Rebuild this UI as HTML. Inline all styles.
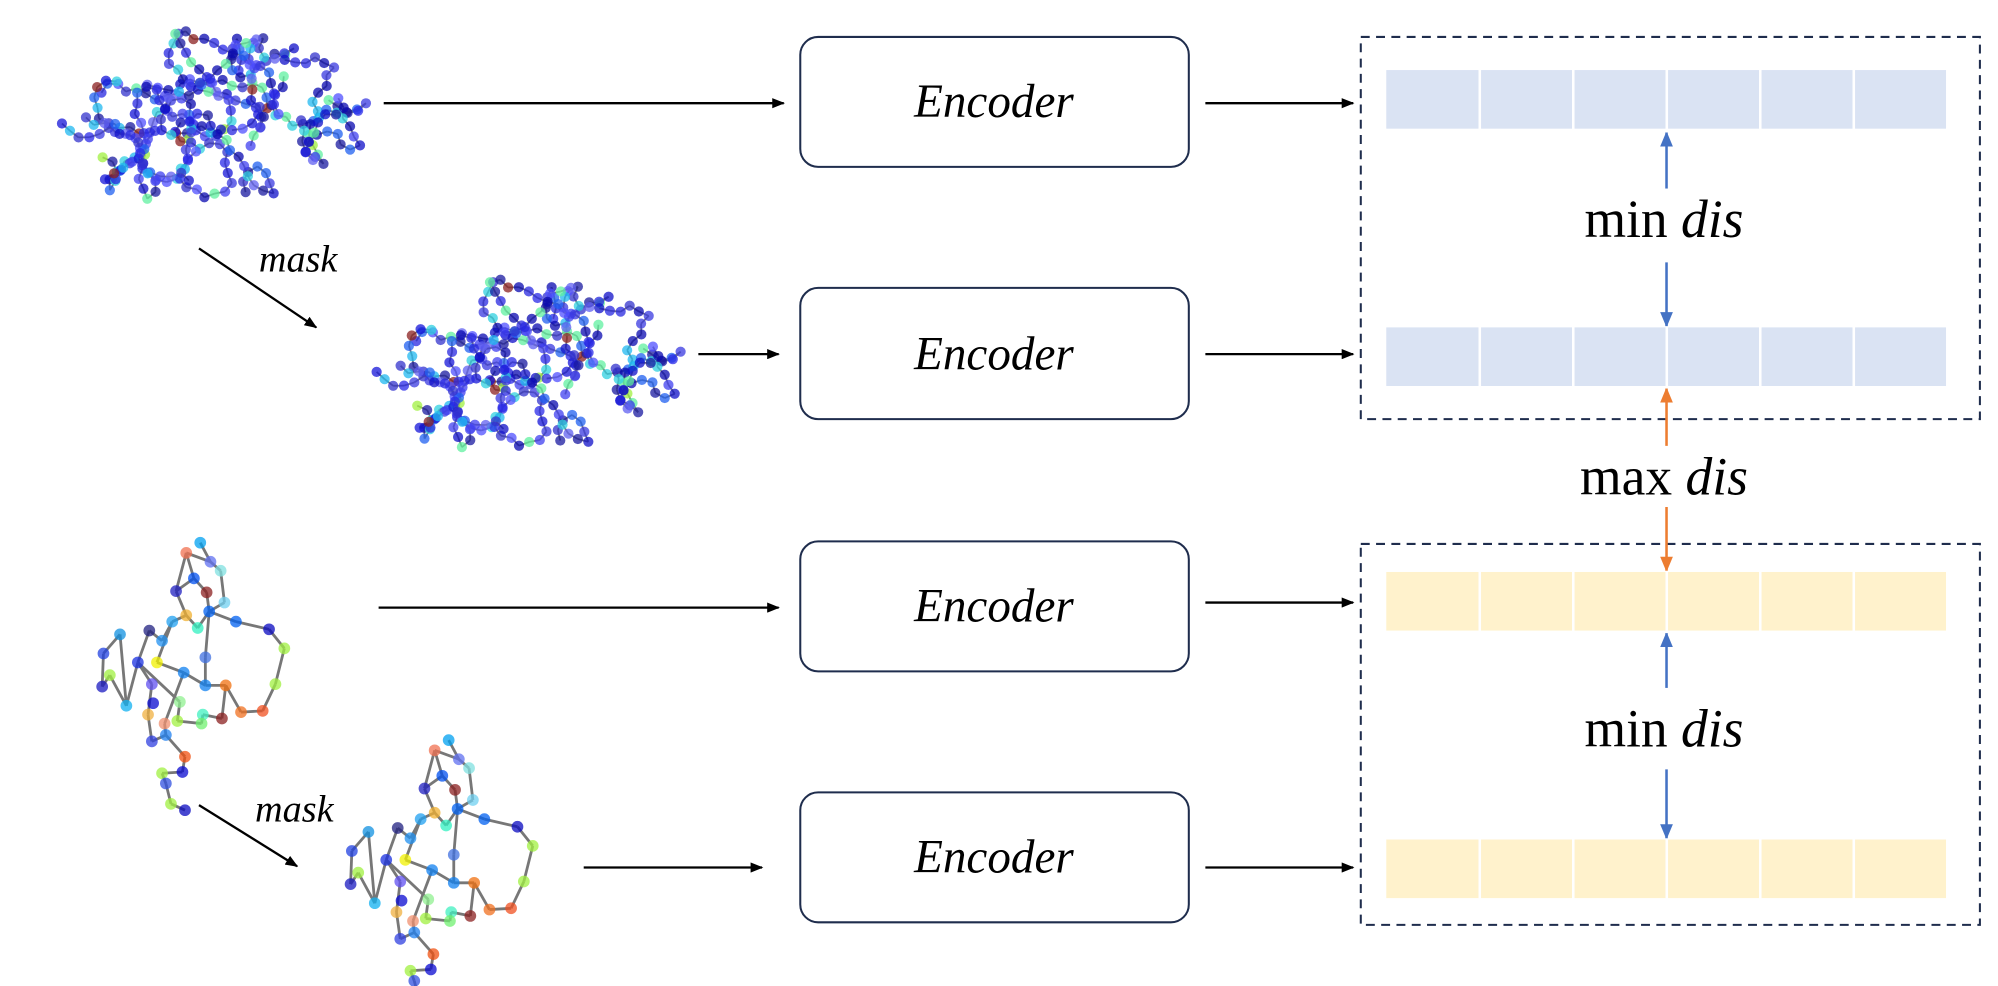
<!DOCTYPE html>
<html><head><meta charset="utf-8"><style>
html,body{margin:0;padding:0;background:#fff;}
svg{display:block;}
text{font-family:"Liberation Serif",serif;}
</style></head><body>
<svg id="s" width="1998" height="986" viewBox="0 0 1568 774" xmlns="http://www.w3.org/2000/svg">
<defs>
<marker id="ak" markerWidth="10" markerHeight="8" refX="9" refY="4" orient="auto" markerUnits="userSpaceOnUse"><path d="M0,0 L10,4 L0,8 z" fill="#000"/></marker>
<marker id="ab" markerWidth="10" markerHeight="12" refX="11" refY="5" orient="auto" markerUnits="userSpaceOnUse"><path d="M0,0 L12,5 L0,10 z" fill="#4472c4"/></marker>
<marker id="ao" markerWidth="10" markerHeight="12" refX="11" refY="5" orient="auto" markerUnits="userSpaceOnUse"><path d="M0,0 L12,5 L0,10 z" fill="#ed7d31"/></marker>
</defs>
<g id="mols"></g>
<g fill="#fff" stroke="#1f2d4d" stroke-width="1.6">
<rect x="628" y="29" width="305" height="102" rx="14"/>
<rect x="628" y="226" width="305" height="103" rx="14"/>
<rect x="628" y="425" width="305" height="102" rx="14"/>
<rect x="628" y="622" width="305" height="102" rx="14"/>
</g>
<g font-size="37" font-style="italic" text-anchor="middle">
<text x="780" y="92">Encoder</text>
<text x="780" y="290">Encoder</text>
<text x="780" y="488">Encoder</text>
<text x="780" y="685">Encoder</text>
</g>
<g stroke="#000" stroke-width="1.8" marker-end="url(#ak)">
<line x1="301" y1="81" x2="615" y2="81"/>
<line x1="946" y1="81" x2="1062" y2="81"/>
<line x1="548" y1="278" x2="611" y2="278"/>
<line x1="946" y1="278" x2="1062" y2="278"/>
<line x1="297" y1="477" x2="611" y2="477"/>
<line x1="946" y1="473" x2="1062" y2="473"/>
<line x1="458" y1="681" x2="598" y2="681"/>
<line x1="946" y1="681" x2="1062" y2="681"/>
<line x1="156" y1="195" x2="248" y2="257"/>
<line x1="156" y1="632" x2="233" y2="680"/>
</g>
<g font-size="30" font-style="italic">
<text x="203" y="213">mask</text>
<text x="200" y="645">mask</text>
</g>
<g fill="none" stroke="#1f2d4d" stroke-width="1.6" stroke-dasharray="7,5">
<rect x="1068" y="29" width="486" height="300"/>
<rect x="1068" y="427" width="486" height="299"/>
</g>
<g id="bars"></g>
<g stroke-width="2">
<line x1="1308" y1="148" x2="1308" y2="104" stroke="#4472c4" marker-end="url(#ab)"/>
<line x1="1308" y1="206" x2="1308" y2="256" stroke="#4472c4" marker-end="url(#ab)"/>
<line x1="1308" y1="350" x2="1308" y2="305" stroke="#ed7d31" marker-end="url(#ao)"/>
<line x1="1308" y1="398" x2="1308" y2="448" stroke="#ed7d31" marker-end="url(#ao)"/>
<line x1="1308" y1="540" x2="1308" y2="497" stroke="#4472c4" marker-end="url(#ab)"/>
<line x1="1308" y1="604" x2="1308" y2="658" stroke="#4472c4" marker-end="url(#ab)"/>
</g>
<g font-size="42" text-anchor="middle">
<text x="1306" y="186">min <tspan font-style="italic">dis</tspan></text>
<text x="1306" y="388">max <tspan font-style="italic">dis</tspan></text>
<text x="1306" y="586">min <tspan font-style="italic">dis</tspan></text>
</g>
</svg>
<script>
var NS="http://www.w3.org/2000/svg";
var bars=document.getElementById("bars");
[[55,"#dae3f3"],[257,"#dae3f3"],[449,"#fff2cc"],[659,"#fff2cc"]].forEach(function(b){
 for(var i=0;i<6;i++){var r=document.createElementNS(NS,"rect");
 r.setAttribute("x",1088+i*73.4+(i?1:0));r.setAttribute("y",b[0]);r.setAttribute("width",73.4-(i?1:0)-1);r.setAttribute("height",46);r.setAttribute("fill",b[1]);bars.appendChild(r);}
});
var mols=document.getElementById("mols");
var seed=11;function rnd(){seed=(seed*16807)%2147483647;return seed/2147483647;}
function draw(pts,edges,cols,dx,dy,rad,sw){
 var g=document.createElementNS(NS,"g");g.setAttribute("transform","translate("+dx+","+dy+")");
 edges.forEach(function(e){var l=document.createElementNS(NS,"line");var a=pts[e[0]],b=pts[e[1]];
 l.setAttribute("x1",a[0]);l.setAttribute("y1",a[1]);l.setAttribute("x2",b[0]);l.setAttribute("y2",b[1]);
 l.setAttribute("stroke","#777");l.setAttribute("stroke-width",sw);g.appendChild(l);});
 pts.forEach(function(p,i){var c=document.createElementNS(NS,"circle");c.setAttribute("cx",p[0]);c.setAttribute("cy",p[1]);c.setAttribute("r",rad);c.setAttribute("fill",cols[i]);c.setAttribute("fill-opacity",0.75);g.appendChild(c);});
 mols.appendChild(g);
}
var pts=[],edges=[],cols=[];
var pal=["#1515d8","#2a2ae8","#4040f0","#3333cc","#1a1aa0","#5050ff","#2060f0","#20b8f0","#30d0e0","#2828e0","#0a0ab0","#3a3ae0","#6060f0","#1010c8"];
function inside(x,y){var a=(x-155)/135,b=(y-92)/68;if(a*a+b*b>1)return false;if(x<70&&(y<75||y>120))return false;if(x>235&&y>130)return false;if(x<100&&y<45)return false;return true;}
var starts=[[40,98],[75,80],[80,115],[110,60],[110,130],[140,35],[150,95],[150,150],[180,60],[190,120],[215,45],[225,95],[250,75],[270,70],[200,155],[125,95]];
starts.forEach(function(s){
 var x=s[0],y=s[1],ang=rnd()*6.28;
 var first=true;
 for(var k=0;k<20;k++){
  ang+=(rnd()-0.5)*2.4;
  var nx=x+Math.cos(ang)*8.5,ny=y+Math.sin(ang)*8.5;
  if(!inside(nx,ny)){var ca=Math.atan2(92-y,155-x);ang=ca+(rnd()-0.5)*1.5;nx=x+Math.cos(ang)*8.5;ny=y+Math.sin(ang)*8.5;}
  if(!first)edges.push([pts.length-1,pts.length]);
  first=false;
  x=nx;y=ny;pts.push([x,y]);
  var r=rnd();cols.push(r<0.015?"#8b2020":r<0.03?"#a0f040":r<0.08?"#60f0a0":pal[Math.floor(rnd()*pal.length)]);
 }
});
draw(pts,edges,cols,0,0,4,1.4);
draw(pts,edges,cols,247,195,4,1.4);
var sp=[[157,426],[146,434],[165,441],[173,448],[152,454],[138,464],[162,465],[176,473],[164,480],[146,483],[155,493],[135,488],[185,488],[211,494],[223,509],[117,495],[127,503],[94,498],[81,513],[108,520],[123,520],[144,528],[161,516],[86,530],[80,539],[119,537],[161,538],[177,538],[216,537],[99,554],[120,552],[116,561],[141,551],[189,559],[206,558],[174,564],[159,561],[139,566],[158,568],[129,568],[130,577],[119,582],[145,594],[143,606],[127,607],[130,615],[134,631],[145,636]];
var sc=["#00a0f0","#f07050","#6070f0","#80e0e0","#0050f0","#2020c0","#8b2020","#70d0f0","#0060f0","#f0b030","#30f0c0","#20a0f0","#0060f0","#0a0ac0","#a0f040","#202080","#2090f0","#1090e0","#2040e0","#1a30e0","#f0f000","#1080f0","#4070e0","#a0f040","#1a1ac0","#6050f0","#1080f0","#f07010","#a0f040","#10b0f0","#0a0ad0","#f0b040","#90f090","#f07020","#f05020","#8b2020","#40f0c0","#a0f040","#70f070","#f09070","#2080f0","#3040e0","#f05010","#0a0ad0","#a0f040","#3050e0","#a0f040","#0a0ac0"];
var se=[[0,2],[1,2],[2,3],[3,7],[1,4],[4,5],[5,9],[4,6],[6,8],[7,8],[8,12],[12,13],[13,14],[14,28],[28,34],[34,33],[33,27],[27,35],[35,36],[36,38],[38,37],[37,32],[32,19],[19,15],[15,16],[16,11],[11,9],[9,10],[10,8],[8,22],[22,26],[26,27],[11,20],[20,21],[21,26],[21,39],[39,40],[40,41],[41,31],[31,25],[25,19],[19,29],[29,23],[23,24],[24,18],[18,17],[17,29],[40,42],[42,43],[43,44],[44,45],[45,46],[46,47],[1,5]];
draw(sp,se,sc,0,0,4.6,2.2);
draw(sp,se,sc,195,155,4.6,2.2);
</script>
</body></html>
